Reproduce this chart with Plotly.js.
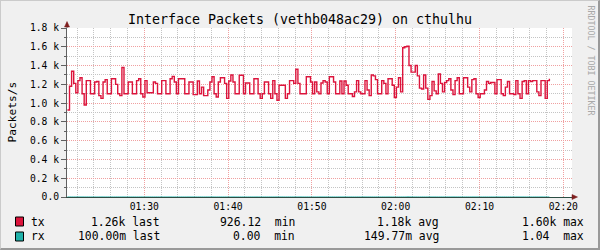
<!DOCTYPE html>
<html><head><meta charset="utf-8">
<script src="https://cdn.plot.ly/plotly-3.0.1.min.js"></script>
<style>
html,body{margin:0;padding:0;background:#F0F0F0;}
#wrap{position:relative;width:600px;height:250px;overflow:hidden;}
#chart{width:600px;height:250px;}
#frame{position:absolute;left:0;top:0;width:600px;height:250px;box-sizing:border-box;border-left:1px solid #CBCBCB;border-top:1px solid #CBCBCB;border-right:2px solid #999999;border-bottom:2px solid #999999;pointer-events:none;}
</style>
</head><body>
<div id="wrap"><div id="chart"></div><div id="frame"></div></div>
<script>
const titleText = 'Interface Packets (vethb048ac29) on cthulhu';
const yAxisLabel = 'Packets/s';
const watermark = 'RRDTOOL / TOBI OETIKER';

const startTime = '2024-01-01T01:20:50Z';
const stepSeconds = 15;

const txValues = [
  926,1180,1340,1210,1110,1240,1270,1100,980,1240,
  1240,1100,1100,1225,1230,1080,1050,1225,1250,1100,
  1100,1260,1260,1200,1100,1080,1380,1100,1100,1225,
  1225,1100,1100,1240,1260,1100,1065,1240,1110,1110,
  1110,1225,1210,1100,1100,1240,1240,1100,1100,1260,
  1285,1225,1100,1260,1260,1260,1100,1100,1225,1225,
  1090,1090,1236,1100,1170,1080,1080,1140,1225,1280,
  1100,1065,1225,1270,1270,1210,1050,1236,1300,1225,
  1100,1100,1296,1296,1100,1215,1215,1100,1100,1260,
  1260,1100,1050,1100,1225,1225,1100,1050,1240,1100,
  1030,1190,1190,1190,1050,1100,1240,1240,1210,1360,
  1210,1100,1100,1100,1280,1280,1225,1100,1225,1120,
  1100,1215,1240,1225,1100,1280,1280,1225,1100,1100,
  1235,1100,1235,1190,1100,1100,1070,1120,1240,1120,
  1100,1100,1240,1140,1080,1300,1290,1250,1100,1100,
  1240,1210,1100,1260,1260,1190,1060,1170,1270,1120,
  1590,1600,1605,1400,1330,1330,1400,1290,1160,1150,
  1300,1160,1040,1080,1230,1130,1100,1310,1210,1120,
  1220,1240,1260,1140,1090,1240,1270,1100,1100,1270,
  1270,1170,1120,1250,1260,1100,1060,1100,1100,1140,
  1230,1210,1220,1220,1100,1250,1250,1100,1080,1170,
  1230,1100,1100,1090,1240,1100,1050,1230,1240,1100,
  1240,1230,1240,1240,1120,1080,1240,1240,1050,1240,
  1260
];

const rxValues = [
  0.1,0.2,0.1,0.1,0.2,0.1,0.1,0.2,0.1,0.2,
  0.1,0.1,0.2,0.1,0.0,0.1,0.2,0.1,0.1,0.2,
  0.2,0.1,0.1,0.2,0.1,0.1,0.3,0.1,0.1,0.2,
  0.1,0.2,0.1,0.1,0.1,0.2,0.1,0.1,0.2,0.1,
  0.1,0.1,0.2,0.1,0.2,0.1,0.1,0.0,0.1,0.2,
  0.1,0.2,0.1,0.1,0.2,0.1,0.1,0.2,0.1,0.1,
  0.2,0.1,0.1,0.2,0.1,0.1,0.2,0.1,0.1,0.2,
  0.1,0.1,0.2,0.1,0.1,0.2,0.1,0.1,0.1,0.2,
  0.1,0.2,0.1,0.1,0.2,0.1,0.1,0.2,0.1,0.1,
  0.2,0.1,0.1,0.1,0.2,0.1,0.2,0.1,0.1,0.2,
  0.1,0.1,0.2,0.1,0.1,0.2,0.1,0.1,0.2,0.1,
  0.1,0.2,0.1,0.1,0.2,0.1,0.1,0.2,0.1,0.1,
  0.2,0.1,0.1,0.2,0.1,0.1,0.2,0.1,0.1,0.2,
  0.1,0.1,0.2,0.1,0.1,0.2,0.1,0.1,0.2,0.1,
  0.1,0.2,0.1,0.1,0.2,0.1,0.1,0.2,0.1,0.1,
  0.2,0.1,0.1,0.2,0.1,0.1,0.2,0.1,0.1,0.2,
  0.3,0.2,1.04,0.4,0.2,0.1,0.2,0.1,0.1,0.2,
  0.1,0.1,0.2,0.1,0.1,0.2,0.1,0.1,0.2,0.1,
  0.1,0.2,0.1,0.1,0.2,0.1,0.1,0.2,0.1,0.1,
  0.2,0.1,0.1,0.2,0.1,0.1,0.2,0.1,0.1,0.2,
  0.1,0.1,0.2,0.1,0.1,0.2,0.1,0.1,0.2,0.1,
  0.1,0.2,0.1,0.1,0.2,0.1,0.1,0.2,0.1,0.1,
  0.2,0.1,0.1,0.2,0.1,0.1,0.2,0.1,0.1,0.2,
  0.1
];

const xRange = ['2024-01-01 01:20:47', '2024-01-01 02:21:02'];
const xTickVals = ['2024-01-01 01:30:00','2024-01-01 01:40:00','2024-01-01 01:50:00','2024-01-01 02:00:00','2024-01-01 02:10:00','2024-01-01 02:20:00'];
const xTickText = ['01:30','01:40','01:50','02:00','02:10','02:20'];
const yTickVals = [0,200,400,600,800,1000,1200,1400,1600,1800];
const yTickText = ['0.0','0.2 k','0.4 k','0.6 k','0.8 k','1.0 k','1.2 k','1.4 k','1.6 k','1.8 k'];
const yRange = [0, 1800];

const seriesNames = ['tx', 'rx'];
const lastText = ['1.26k last', '100.00m last'];
const minText = ['926.12  min', '0.00  min'];
const avgText = ['1.18k avg', '149.77m avg'];
const maxText = ['1.60k max', '1.04  max'];

// ---- build ----
const t0 = Date.parse(startTime);
const times = txValues.map((_, i) => t0 + i * stepSeconds * 1000);

const colors = ['#DC143C', '#20B2AA'];
const FONT = 'DejaVu Sans Mono, monospace';

const traces = [
  {x: times, y: txValues, type: 'scatter', mode: 'lines', line: {shape: 'hv', color: colors[0], width: 1.4}, name: seriesNames[0]},
  {x: times, y: rxValues, type: 'scatter', mode: 'lines', line: {shape: 'hv', color: colors[1], width: 1}, name: seriesNames[1]}
];

// pixel -> paper helpers (plot area: x 67..572, y 28..197)
const L = 67, R = 572, T = 28, B = 197;
const px = v => (v - L) / (R - L);
const py = v => (B - v) / (B - T);
const nb = s => s.replace(/ /g, '\u00A0');

const annotations = [];
const shapes = [];
const rowY = [221.8, 236.2];
const sqTop = [217, 232];
seriesNames.forEach((nm, i) => {
  shapes.push({type: 'rect', xref: 'paper', yref: 'paper', x0: px(15.5), x1: px(23.5), y0: py(sqTop[i]), y1: py(sqTop[i] + 9),
    fillcolor: colors[i], line: {color: '#000000', width: 1}});
  const base = {xref: 'paper', yref: 'paper', showarrow: false, borderpad: 0, borderwidth: 0, yanchor: 'middle',
    font: {family: FONT, size: 11.4, color: '#000000'}, y: py(rowY[i])};
  annotations.push(Object.assign({}, base, {text: nb(nm), x: px(31), xanchor: 'left'}));
  annotations.push(Object.assign({}, base, {text: nb(lastText[i]), x: px(159.5), xanchor: 'right'}));
  annotations.push(Object.assign({}, base, {text: nb(minText[i]), x: px(295.3), xanchor: 'right'}));
  annotations.push(Object.assign({}, base, {text: nb(avgText[i]), x: px(439.3), xanchor: 'right'}));
  annotations.push(Object.assign({}, base, {text: nb(maxText[i]), x: px(583.5), xanchor: 'right'}));
});

annotations.push({xref: 'paper', yref: 'paper', showarrow: false, text: yAxisLabel, textangle: -90,
  x: px(11.5), y: py(112), xanchor: 'center', yanchor: 'middle', font: {family: FONT, size: 11.2, color: '#000000'}});
annotations.push({xref: 'paper', yref: 'paper', showarrow: false, text: nb(watermark), textangle: 90,
  x: px(590.5), y: py(60), xanchor: 'center', yanchor: 'middle', font: {family: FONT, size: 8.3, color: '#A8A8A8'}});

// axis extensions and arrows
shapes.push({type: 'line', xref: 'paper', yref: 'paper', x0: 0, x1: 0, y0: 1, y1: py(23), line: {color: '#606060', width: 1}});
shapes.push({type: 'line', xref: 'paper', yref: 'paper', x0: 1, x1: px(575), y0: 0, y1: 0, line: {color: '#2C4D43', width: 1}});
shapes.push({type: 'path', xref: 'paper', yref: 'paper', fillcolor: '#7F1F1F', line: {color: '#7F1F1F', width: 0.5},
  path: 'M ' + px(64.5) + ' ' + py(27) + ' L ' + px(69.5) + ' ' + py(27) + ' L ' + px(67) + ' ' + py(21.5) + ' Z'});
shapes.push({type: 'path', xref: 'paper', yref: 'paper', fillcolor: '#7F1F1F', line: {color: '#7F1F1F', width: 0.5},
  path: 'M ' + px(572) + ' ' + py(194.5) + ' L ' + px(572) + ' ' + py(199.5) + ' L ' + px(577.5) + ' ' + py(197) + ' Z'});

const layout = {
  width: 600, height: 250,
  paper_bgcolor: '#F0F0F0', plot_bgcolor: '#FFFFFF',
  margin: {l: L, r: 600 - R, t: T, b: 250 - B, pad: 0},
  showlegend: false,
  title: {text: titleText, font: {family: FONT, size: 13.3, color: '#000000'}, x: 0.5, xanchor: 'center', xref: 'container', y: 1 - 19 / 250, yanchor: 'middle', yref: 'container'},
  xaxis: {
    type: 'date', range: xRange, tickmode: 'array', tickvals: xTickVals, ticktext: xTickText,
    showgrid: true, gridcolor: '#F0A0A0', griddash: '1px,1px', gridwidth: 1,
    showline: true, linecolor: '#2C4D43', linewidth: 1, zeroline: false, ticks: '',
    tickfont: {family: FONT, size: 9.7, color: '#000000'},
    minor: {tickmode: 'linear', tick0: '2024-01-01 01:30:00', dtick: 120000, showgrid: true, gridcolor: '#C4C4C4', griddash: '1px,1px', gridwidth: 1, ticks: ''},
    fixedrange: true, layer: 'above traces'
  },
  yaxis: {
    range: yRange, tickmode: 'array', tickvals: yTickVals, ticktext: yTickText,
    showgrid: true, gridcolor: '#F0A0A0', griddash: '1px,1px', gridwidth: 1,
    showline: true, linecolor: '#606060', linewidth: 1, zeroline: false,
    ticks: 'outside', ticklen: 5, tickcolor: '#606060', tickwidth: 1,
    tickfont: {family: FONT, size: 9.7, color: '#000000'},
    minor: {tickmode: 'linear', tick0: 0, dtick: 100, showgrid: true, gridcolor: '#C4C4C4', griddash: '1px,1px', gridwidth: 1, ticks: 'outside', ticklen: 2, tickcolor: '#606060'},
    fixedrange: true, layer: 'above traces'
  },
  annotations: annotations,
  shapes: shapes
};

Plotly.newPlot('chart', traces, layout, {staticPlot: true, displayModeBar: false});
</script>
</body></html>
